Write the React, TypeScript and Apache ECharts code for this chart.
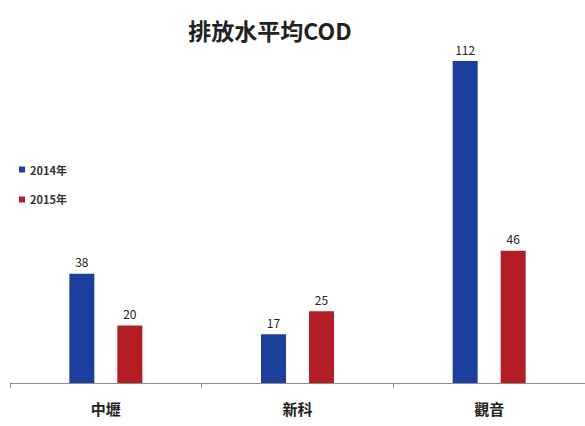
import React, { useEffect, useRef } from "react";
import * as echarts from "echarts";

const categories = ["中壢", "新科", "觀音"];
const series2014 = [38, 17, 112];
const series2015 = [20, 25, 46];
const seriesNames = ["2014年", "2015年"];

export default function App() {
  const ref = useRef<HTMLDivElement>(null);
  useEffect(() => {
    const chart = echarts.init(ref.current!, null, { renderer: "svg" });
    const font = '"Noto Sans CJK TC", "Noto Sans", sans-serif';
    const label = {
      show: true,
      position: "top" as const,
      distance: 6,
      color: "#222",
      fontSize: 12,
      fontFamily: font,
    };
    chart.setOption({
      animation: false,
      backgroundColor: "#ffffff",
      title: {
        text: "排放水平均COD",
        left: 265,
        top: 13,
        textAlign: "center",
        textStyle: { fontSize: 23, fontWeight: "bold", color: "#222", fontFamily: font },
      },
      legend: {
        orient: "vertical",
        left: 14,
        top: 159,
        itemWidth: 6,
        itemHeight: 6,
        itemGap: 19,
        icon: "rect",
        textStyle: { fontSize: 11, color: "#333", fontWeight: "bold", fontFamily: font },
        data: seriesNames,
      },
      grid: { left: 10, width: 579, top: 38, bottom: 43, containLabel: false },
      xAxis: {
        type: "category",
        data: categories,
        axisLine: { lineStyle: { color: "#8c8c8c", width: 1 } },
        axisTick: { show: true, length: 5, lineStyle: { color: "#8c8c8c" } },
        axisLabel: { fontSize: 15, fontWeight: "bold", color: "#222", margin: 18, fontFamily: font },
      },
      yAxis: {
        type: "value",
        min: 0,
        max: 120,
        show: false,
        splitLine: { show: false },
      },
      series: [
        {
          name: seriesNames[0],
          type: "bar",
          data: series2014,
          barWidth: 25,
          barGap: "92%",
          itemStyle: { color: "#1d3f9c" },
          label,
        },
        {
          name: seriesNames[1],
          type: "bar",
          data: series2015,
          barWidth: 25,
          itemStyle: { color: "#b31d25" },
          label,
        },
      ],
    });
    return () => chart.dispose();
  }, []);
  return (
    <div
      ref={ref}
      style={{ position: "fixed", left: 0, top: 0, width: 585, height: 426 }}
    />
  );
}
